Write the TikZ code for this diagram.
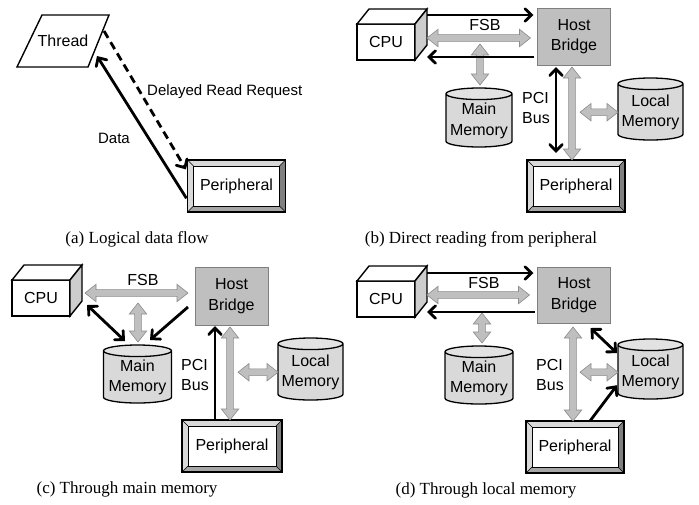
\documentclass[tikz,border=0pt]{standalone}
\usepackage{fontspec}
\setmainfont{Liberation Serif}
\setsansfont{Liberation Sans}
\usetikzlibrary{arrows.meta,calc,shapes.geometric}
\definecolor{hbfill}{RGB}{191,191,191}
\definecolor{hbline}{RGB}{127,127,127}
\definecolor{busfill}{RGB}{191,191,191}
\definecolor{busline}{RGB}{140,140,140}
\definecolor{cylbody}{RGB}{217,217,217}
\definecolor{cyltop}{RGB}{226,226,226}
\definecolor{cubeside}{RGB}{205,205,205}
\definecolor{bevlight}{RGB}{217,217,217}
\definecolor{bevmid}{RGB}{166,166,166}
\definecolor{bevdark}{RGB}{128,128,128}

% top and side faces of the CPU box
\newcommand\cpucube[1]{%
  \draw[cubeline, fill=white] (#1.north west) -- ++(12pt,15pt)
    -- ([shift={(12pt,15pt)}]#1.north east) -- (#1.north east) -- cycle;
  \draw[cubeline, fill=cubeside] (#1.north east) -- ++(12pt,15pt)
    -- ([shift={(12pt,15pt)}]#1.south east) -- (#1.south east) -- cycle;}

\begin{document}
\begin{tikzpicture}[x=1pt,y=-1pt, line join=miter,
  txt/.style={font=\sffamily\fontsize{16}{20.5}\selectfont, align=center, inner sep=0pt},
  lab/.style={font=\sffamily\fontsize{15}{18}\selectfont, inner sep=0pt},
  capt/.style={font=\rmfamily\fontsize{17}{20}\selectfont, inner sep=0pt},
  cpu/.style={txt, draw, line width=1.4pt, fill=white, outer sep=0pt,
    minimum width=58pt, minimum height=36pt},
  cubeline/.style={line width=1.4pt},
  bridge/.style={txt, draw=hbline, line width=0.8pt, fill=hbfill, outer sep=0pt,
    minimum width=73pt, minimum height=57pt},
  memory/.style={txt, cylinder, shape border rotate=90, aspect=0.2, draw,
    line width=1.3pt, cylinder uses custom fill, cylinder body fill=cylbody,
    cylinder end fill=cyltop, minimum width=66pt, minimum height=59pt, outer sep=0pt},
  periph/.style={txt, draw, line width=1.4pt, outer sep=0pt,
    minimum width=98pt, minimum height=52pt,
    path picture={
      \fill[bevlight] (path picture bounding box.south west) rectangle (path picture bounding box.north east);
      \fill[bevdark] (path picture bounding box.north east) -- (path picture bounding box.south east)
        -- ([shift={(-6pt,6pt)}]path picture bounding box.south east)
        -- ([shift={(-6pt,-6pt)}]path picture bounding box.north east) -- cycle;
      \fill[bevmid] (path picture bounding box.south west) -- (path picture bounding box.south east)
        -- ([shift={(-6pt,6pt)}]path picture bounding box.south east)
        -- ([shift={(6pt,6pt)}]path picture bounding box.south west) -- cycle;
      \draw[line width=0.5pt]
        (path picture bounding box.north west) -- ([shift={(6pt,-6pt)}]path picture bounding box.north west)
        (path picture bounding box.north east) -- ([shift={(-6pt,-6pt)}]path picture bounding box.north east)
        (path picture bounding box.south west) -- ([shift={(6pt,6pt)}]path picture bounding box.south west)
        (path picture bounding box.south east) -- ([shift={(-6pt,6pt)}]path picture bounding box.south east);
      \draw[line width=1pt, fill=white]
        ([shift={(6pt,-6pt)}]path picture bounding box.north west)
        rectangle ([shift={(-6pt,6pt)}]path picture bounding box.south east);
    }},
  fat/.style={draw=busline, fill=busfill, line width=0.6pt,
    to path={
      let \p1=(\tikztostart), \p2=(\tikztotarget),
          \n1={atan2(\y2-\y1,\x2-\x1)}
      in (\p1) -- ($(\p1)+(\n1:11pt)+(\n1+90:8.7pt)$) -- ($(\p1)+(\n1:11pt)+(\n1+90:3.4pt)$)
         -- ($(\p2)-(\n1:11pt)+(\n1+90:3.4pt)$) -- ($(\p2)-(\n1:11pt)+(\n1+90:8.7pt)$)
         -- (\p2) -- ($(\p2)-(\n1:11pt)-(\n1+90:8.7pt)$) -- ($(\p2)-(\n1:11pt)-(\n1+90:3.4pt)$)
         -- ($(\p1)+(\n1:11pt)-(\n1+90:3.4pt)$) -- ($(\p1)+(\n1:11pt)-(\n1+90:8.7pt)$) -- cycle}},
  barb/.tip={Straight Barb[length=6.5pt,width=12.5pt,line cap=round]},
  blk/.style={line width=2.8pt, -barb},
  blkboth/.style={line width=2.8pt, barb-barb},
]
\useasboundingbox (0,0) rectangle (699,504);
\fill[white] (0,0) rectangle (699,504);

% ---------------- (a) logical data flow ----------------
\node[txt] (thread) at (63,41) {Thread};
\draw[line width=1.4pt] (17,67) -- (42,15) -- (109,15) -- (88,67) -- cycle;
\node[periph] (a-per) at (236.5,186) {Peripheral};
\coordinate (a-req) at (104,31);
\coordinate (a-back) at (97,56);
\draw[blk, dash pattern=on 8pt off 5pt, shorten >=3pt] (a-req) -- ([yshift=14pt]a-per.west);
\draw[blk, shorten <=2pt] ([yshift=-14pt]a-per.west) -- (a-back);
\node[lab, anchor=west] (a-dlr) at (147,92) {Delayed Read Request};
\node[lab] (a-data) at (114,138) {Data};
\node[capt] (cap-a) at (137,239) {(a) Logical data flow};

% ---------------- (b) direct reading from peripheral ----------------
\node[cpu] (b-cpu) at (386,42) {CPU};
\cpucube{b-cpu}
\node[bridge] (b-hb) at (574,36.5) {Host\\Bridge};
\node[memory, anchor=shape center] (b-mm) at (479,117.5) {Main\\Memory};
\node[memory, anchor=shape center, minimum width=65pt, minimum height=62pt] (b-lm) at (650.5,109) {Local\\Memory};
\node[periph] (b-per) at (576,186) {Peripheral};
\node[txt] (b-fsb) at (485,25) {FSB};
\node[txt, align=left] (b-pci) at (536,108) {PCI\\Bus};
\path[fat] ([shift={(12pt,4pt)}]b-cpu.east) to ([shift={(-7pt,-1.5pt)}]b-hb.west);
\path[fat] ([shift={(1pt,44pt)}]b-mm.north) to ([shift={(1pt,3pt)}]b-mm.north);
\path[fat] ([shift={(-2pt,-2pt)}]b-hb.south) to ([xshift=-4pt]b-per.north);
\path[fat] ([xshift=-38pt]b-lm.west) to (b-lm.west);
\draw[blk] ([shift={(12pt,27pt)}]b-cpu.east) -- ([shift={(-4pt,21.5pt)}]b-hb.west);
\draw[blk] ([shift={(-4pt,-20.5pt)}]b-hb.west) -- ([shift={(12pt,-15pt)}]b-cpu.east);
\draw[blkboth] ([shift={(-18pt,-2pt)}]b-hb.south) -- ([shift={(-20pt,7pt)}]b-per.north);
\node[capt] (cap-b) at (481,239) {(b) Direct reading from peripheral};

% ---------------- (c) through main memory ----------------
\node[cpu] (c-cpu) at (41,298) {CPU};
\cpucube{c-cpu}
\node[bridge, minimum height=58pt] (c-hb) at (231.5,296) {Host\\Bridge};
\node[memory, anchor=shape center, minimum width=68pt, minimum height=58pt] (c-mm) at (137.5,374) {Main\\Memory};
\node[memory, anchor=shape center, minimum width=65pt, minimum height=62pt] (c-lm) at (310.5,369) {Local\\Memory};
\node[periph, minimum width=100pt] (c-per) at (232,446) {Peripheral};
\node[txt] (c-fsb) at (143,280) {FSB};
\node[txt, align=left] (c-pci) at (195,375) {PCI\\Bus};
\path[fat] ([shift={(15pt,5pt)}]c-cpu.east) to ([shift={(-7pt,3pt)}]c-hb.west);
\path[fat] ([shift={(0.5pt,42pt)}]c-mm.north) to ([shift={(0.5pt,3pt)}]c-mm.north);
\path[fat] ([shift={(-1.5pt,-2pt)}]c-hb.south) to ([xshift=-2pt]c-per.north);
\path[fat] ([xshift=-40pt]c-lm.west) to (c-lm.west);
\draw[blkboth] ([shift={(17pt,11pt)}]c-cpu.south east) -- ([shift={(-12.5pt,4pt)}]c-mm.north);
\draw[blk] ([shift={(-7pt,-11pt)}]c-hb.west) -- ([shift={(12.5pt,5pt)}]c-mm.north);
\draw[blk] ([xshift=-17pt]c-per.north) -- ([shift={(-16.5pt,-1pt)}]c-hb.south);
\node[capt] (cap-c) at (127,489) {(c) Through main memory};

% ---------------- (d) through local memory ----------------
\node[cpu] (d-cpu) at (386,299) {CPU};
\cpucube{d-cpu}
\node[bridge, minimum height=56pt] (d-hb) at (574,295) {Host\\Bridge};
\node[memory, anchor=shape center, minimum width=68pt, minimum height=58pt] (d-mm) at (479,375) {Main\\Memory};
\node[memory, anchor=shape center, minimum width=65pt, minimum height=60pt] (d-lm) at (650.5,369) {Local\\Memory};
\node[periph] (d-per) at (575,447) {Peripheral};
\node[txt] (d-fsb) at (484,283) {FSB};
\node[txt, align=left] (d-pci) at (550,375) {PCI\\Bus};
\path[fat] ([shift={(12pt,4pt)}]d-cpu.east) to ([xshift=-8pt]d-hb.west);
\path[fat] ([shift={(3pt,33pt)}]d-mm.north) to ([shift={(3pt,3pt)}]d-mm.north);
\path[fat] ([shift={(-1pt,-4pt)}]d-hb.south) to ([xshift=-2pt]d-per.north);
\path[fat] ([xshift=-38pt]d-lm.west) to (d-lm.west);
\draw[blk] ([shift={(12pt,26pt)}]d-cpu.east) -- ([shift={(-4pt,22pt)}]d-hb.west);
\draw[blk] ([shift={(-3pt,-17pt)}]d-hb.west) -- ([shift={(12pt,-13pt)}]d-cpu.east);
\draw[blkboth] ([shift={(-20pt,-5pt)}]d-hb.south east) -- ([shift={(-1pt,19pt)}]d-lm.west);
\draw[blk] ([xshift=15pt]d-per.north) -- ([shift={(-1pt,-13pt)}]d-lm.west);
\node[capt] (cap-d) at (486,490) {(d) Through local memory};
\end{tikzpicture}
\end{document}
